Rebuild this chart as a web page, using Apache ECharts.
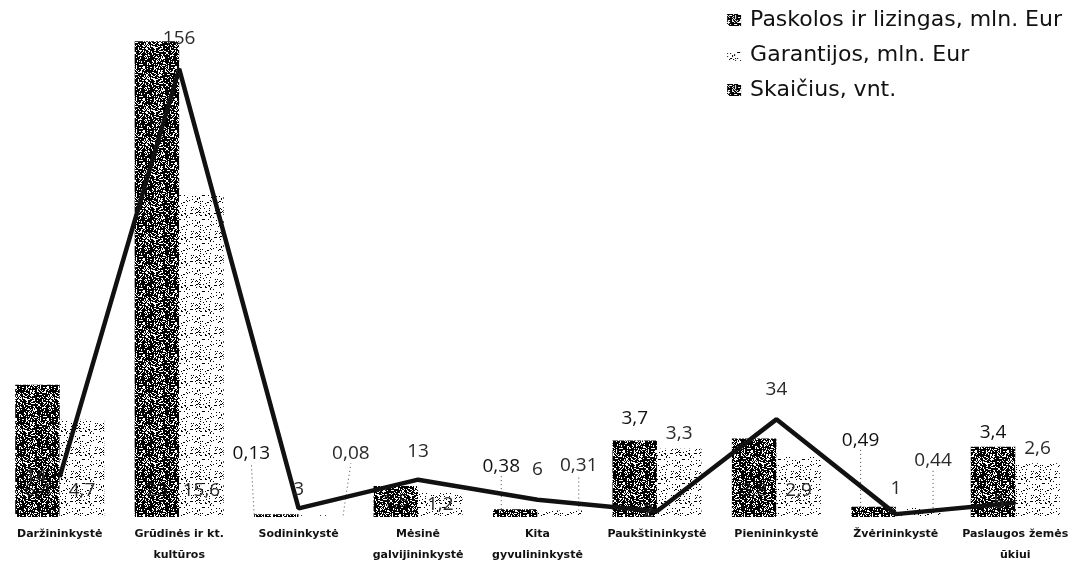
<!DOCTYPE html>
<html>
<head>
<meta charset="utf-8">
<script src="https://cdn.jsdelivr.net/npm/echarts@6/dist/echarts.min.js"></script>
<style>
html,body{margin:0;padding:0;background:#fff;}
#chart{width:1075px;height:566px;}
</style>
</head>
<body>
<div id="chart"></div>
<script>
// ---- data ----
const categories = [
  'Daržininkystė',
  'Grūdinės ir kt.\nkultūros',
  'Sodininkystė',
  'Mėsinė\ngalvijininkystė',
  'Kita\ngyvulininkystė',
  'Paukštininkystė',
  'Pienininkystė',
  'Žvėrininkystė',
  'Paslaugos žemės\nūkiui'
];
const seriesNames = ['Paskolos ir lizingas, mln. Eur', 'Garantijos, mln. Eur', 'Skaičius, vnt.'];
const paskolos = [6.4, 23.0, 0.13, 1.5, 0.38, 3.7, 3.8, 0.49, 3.4];
const garantijos = [4.7, 15.6, 0.08, 1.2, 0.31, 3.3, 2.9, 0.44, 2.6];
const skaicius = [14, 156, 3, 13, 6, 2, 34, 1, 5];

// ---- textures (deterministic hash, used only for the fill texture) ----
function hash(x, y) {
  let h = Math.imul(x, 374761393) + Math.imul(y, 668265263);
  h = Math.imul(h ^ (h >>> 13), 1274126177);
  return ((h ^ (h >>> 16)) >>> 0) / 4294967296;
}
function makePattern(size, fn) {
  const c = document.createElement('canvas');
  c.width = size; c.height = size;
  const ctx = c.getContext('2d');
  ctx.fillStyle = '#fff';
  ctx.fillRect(0, 0, size, size);
  ctx.fillStyle = '#000';
  for (let y = 0; y < size; y++) for (let x = 0; x < size; x++) if (fn(x, y)) ctx.fillRect(x, y, 1, 1);
  return c;
}
const darkTile = makePattern(32, (x, y) => hash(x, y) < 0.68);
const lightTile = makePattern(24, (x, y) => hash(x + 101, y + 57) < 0.1);
const darkFill = { image: darkTile, repeat: 'repeat' };
const lightFill = { image: lightTile, repeat: 'repeat' };

const fmt = v => String(v).replace('.', ',');
const valFont = { fontFamily: 'Open Sans', fontSize: 19, color: '#2a2a2a' };

// label placement styles (kept apart from the data)
const barLabelStyle = [
  // Paskolos
  [
    { position: 'insideBottom', distance: 17 },
    { position: 'insideBottom', distance: 17 },
    { position: 'top', move: [-25, -46] },
    { position: 'inside' },
    { position: 'top', move: [-14, -28] },
    { position: 'top', distance: 12 },
    { position: 'insideBottom', distance: 17 },
    { position: 'top', move: [-13, -52] },
    { position: 'top', distance: 5 }
  ],
  // Garantijos
  [
    { position: 'insideBottom', distance: 17 },
    { position: 'insideBottom', distance: 17 },
    { position: 'top', move: [30, -47] },
    { position: 'inside' },
    { position: 'top', move: [19, -30] },
    { position: 'top', distance: 6 },
    { position: 'insideBottom', distance: 17 },
    { position: 'top', move: [15, -33] },
    { position: 'top', distance: 5 }
  ]
];
const lineLabelStyle = [
  { position: 'left', distance: 12 },
  { position: 'top', distance: 20 },
  { position: 'top', distance: 8, offset: [6, 0] },
  { position: 'top', distance: 18 },
  { position: 'top', distance: 20 },
  { position: 'left', distance: 2 },
  { position: 'top', distance: 19 },
  { position: 'top', distance: 15 },
  { position: 'left', distance: 10 }
];

function barData(values, si) {
  return values.map((v, i) => {
    const st = barLabelStyle[si][i];
    const item = {
      value: v,
      label: { position: st.position, distance: st.distance === undefined ? 5 : st.distance }
    };
    if (st.move) item.labelLine = { show: true };
    return item;
  });
}

const chart = echarts.init(document.getElementById('chart'));
chart.setOption({
  animation: false,
  backgroundColor: '#fff',
  grid: { left: -5, right: -7, top: 0, bottom: 46 },
  legend: {
    orient: 'vertical',
    right: 8,
    top: 4,
    itemGap: 13,
    itemWidth: 14,
    itemHeight: 12,
    textStyle: { fontFamily: 'DejaVu Sans', fontSize: 22, color: '#111', padding: [0, 0, 0, 4] },
    data: [
      { name: seriesNames[0], icon: 'rect', itemStyle: { color: darkFill } },
      { name: seriesNames[1], icon: 'rect', itemStyle: { color: lightFill } },
      { name: seriesNames[2], icon: 'rect', itemStyle: { color: darkFill } }
    ]
  },
  xAxis: {
    type: 'category',
    data: categories,
    axisLine: { show: false },
    axisTick: { show: false },
    axisLabel: {
      interval: 0,
      margin: 7,
      fontFamily: 'DejaVu Sans',
      fontWeight: 'bold',
      fontSize: 11,
      lineHeight: 21,
      color: '#111'
    }
  },
  yAxis: [
    { type: 'value', min: 0, max: 25, show: false, splitLine: { show: false } },
    { type: 'value', min: 0, max: 180, show: false, splitLine: { show: false } }
  ],
  labelLayout: function (p) {
    if (p.seriesIndex > 1) return {};
    const st = barLabelStyle[p.seriesIndex][p.dataIndex];
    return st && st.move ? { dx: st.move[0], dy: st.move[1] } : {};
  },
  series: [
    {
      name: seriesNames[0],
      type: 'bar',
      yAxisIndex: 0,
      barGap: '0%',
      barCategoryGap: '25.5%',
      itemStyle: { color: darkFill },
      label: Object.assign({ show: true, formatter: p => fmt(p.value), color: '#111' }, { fontFamily: 'Open Sans', fontSize: 19 }),
      labelLine: { show: false, lineStyle: { color: '#444', width: 1, type: [1, 3] } },
      data: barData(paskolos, 0)
    },
    {
      name: seriesNames[1],
      type: 'bar',
      yAxisIndex: 0,
      barGap: '0%',
      barCategoryGap: '25.5%',
      itemStyle: { color: lightFill },
      label: Object.assign({ show: true, formatter: p => fmt(p.value) }, valFont),
      labelLine: { show: false, lineStyle: { color: '#444', width: 1, type: [1, 3] } },
      data: barData(garantijos, 1)
    },
    {
      name: seriesNames[2],
      type: 'line',
      yAxisIndex: 1,
      z: 5,
      symbol: 'circle',
      symbolSize: 2,
      itemStyle: { color: '#111' },
      lineStyle: { color: '#111', width: 4.5 },
      label: Object.assign({ show: true, formatter: p => fmt(p.value) }, valFont),
      data: skaicius.map((v, i) => ({ value: v, label: lineLabelStyle[i] }))
    }
  ]
});
</script>
</body>
</html>
